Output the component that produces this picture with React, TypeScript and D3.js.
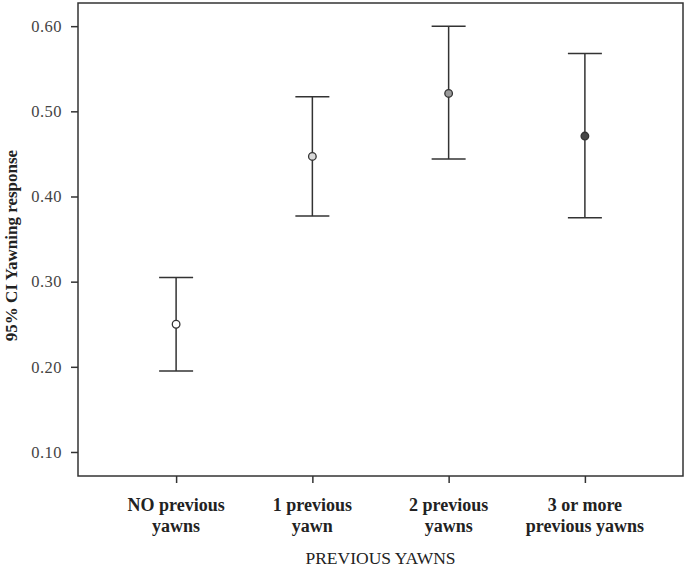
import * as d3 from "d3";
import { useEffect, useRef } from "react";

// categories and CI values
const categories = ["NO previous yawns", "1 previous yawn", "2 previous yawns", "3 or more previous yawns"];
const labelLines = [
  ["NO previous", "yawns"],
  ["1 previous", "yawn"],
  ["2 previous", "yawns"],
  ["3 or more", "previous yawns"],
];
const means = [0.25, 0.447, 0.521, 0.471];
const lower = [0.195, 0.377, 0.444, 0.375];
const upper = [0.305, 0.517, 0.6, 0.568];
const pointFills = ["#ffffff", "#d9d9d9", "#9a9a9a", "#474747"];
const yTicks = [0.1, 0.2, 0.3, 0.4, 0.5, 0.6];

const App = () => {
  const ref = useRef<SVGSVGElement>(null);

  useEffect(() => {
    const width = 685,
      height = 568;
    const margin = { top: 3, right: 2, bottom: 92, left: 78 };
    const innerW = width - margin.left - margin.right;
    const innerH = height - margin.top - margin.bottom;
    const font = "'Liberation Serif', 'Times New Roman', serif";
    const ink = "#333";

    const root = d3.select(ref.current);
    root.selectAll("*").remove();
    const svg = root.append("g").attr("transform", `translate(${margin.left},${margin.top})`);

    const x = d3.scalePoint().domain(categories).range([0, innerW]).padding(0.72);
    const y = d3.scaleLinear().domain([0.0718, 0.6272]).range([innerH, 0]);

    // frame
    svg
      .append("rect")
      .attr("x", 0)
      .attr("y", 0)
      .attr("width", innerW)
      .attr("height", innerH)
      .attr("fill", "none")
      .attr("stroke", ink)
      .attr("stroke-width", 1.5);

    // Y axis
    const yAxis = svg
      .append("g")
      .call(d3.axisLeft(y).tickValues(yTicks).tickFormat(d3.format(".2f")).tickSize(7).tickPadding(9));
    yAxis.select(".domain").remove();
    yAxis.selectAll("line").attr("stroke", ink).attr("stroke-width", 1.5);
    yAxis
      .selectAll("text")
      .attr("fill", "#444")
      .style("font-family", font)
      .style("font-size", "16.5px")
      .style("letter-spacing", "0.5px");

    // X axis
    const xAxis = svg
      .append("g")
      .attr("transform", `translate(0,${innerH})`)
      .call(d3.axisBottom(x).tickSize(7).tickFormat(() => ""));
    xAxis.select(".domain").remove();
    xAxis.selectAll("line").attr("stroke", ink).attr("stroke-width", 1.5);

    // category labels
    svg
      .selectAll("text.cat")
      .data(categories)
      .join("text")
      .attr("class", "cat")
      .attr("text-anchor", "middle")
      .attr("transform", (d) => `translate(${x(d)},${innerH + 35})`)
      .style("font-family", font)
      .style("font-size", "18px")
      .style("font-weight", "bold")
      .attr("fill", "#222")
      .selectAll("tspan")
      .data((d, i) => labelLines[i])
      .join("tspan")
      .attr("x", 0)
      .attr("dy", (d, i) => (i === 0 ? 0 : 21))
      .text((d) => d);

    // axis titles
    svg
      .append("text")
      .attr("x", innerW / 2)
      .attr("y", innerH + 88)
      .attr("text-anchor", "middle")
      .style("font-family", font)
      .style("font-size", "17.5px")
      .attr("fill", "#222")
      .text("PREVIOUS YAWNS");

    svg
      .append("text")
      .attr("transform", `translate(${-61},${innerH / 2 + 6}) rotate(-90)`)
      .attr("text-anchor", "middle")
      .style("font-family", font)
      .style("font-size", "17px")
      .style("font-weight", "bold")
      .attr("fill", "#222")
      .text("95% CI Yawning response");

    // error bars
    const bars = svg
      .selectAll("g.bar")
      .data(categories)
      .join("g")
      .attr("class", "bar")
      .attr("transform", (d) => `translate(${x(d)},0)`);

    bars
      .append("line")
      .attr("y1", (d, i) => y(upper[i]))
      .attr("y2", (d, i) => y(lower[i]))
      .attr("stroke", ink)
      .attr("stroke-width", 1.5);
    bars
      .append("line")
      .attr("x1", -17)
      .attr("x2", 17)
      .attr("y1", (d, i) => y(upper[i]))
      .attr("y2", (d, i) => y(upper[i]))
      .attr("stroke", ink)
      .attr("stroke-width", 1.5);
    bars
      .append("line")
      .attr("x1", -17)
      .attr("x2", 17)
      .attr("y1", (d, i) => y(lower[i]))
      .attr("y2", (d, i) => y(lower[i]))
      .attr("stroke", ink)
      .attr("stroke-width", 1.5);
    bars
      .append("circle")
      .attr("cy", (d, i) => y(means[i]))
      .attr("r", 3.8)
      .attr("fill", (d, i) => pointFills[i])
      .attr("stroke", ink)
      .attr("stroke-width", 1.3);
  }, []);

  return <svg ref={ref} width={685} height={568} style={{ display: "block", position: "absolute", left: 0, top: 0 }} />;
};

export default App;
